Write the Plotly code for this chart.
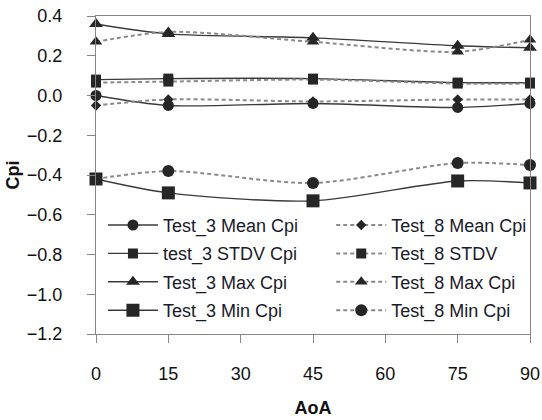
import plotly.graph_objects as go

aoa = [0, 15, 45, 75, 90]

test3_mean = [0.00, -0.05, -0.04, -0.06, -0.04]
test3_stdv = [0.08, 0.085, 0.085, 0.065, 0.065]
test3_max = [0.36, 0.31, 0.29, 0.25, 0.24]
test3_min = [-0.42, -0.49, -0.53, -0.43, -0.44]

test8_mean = [-0.05, -0.02, -0.03, -0.02, -0.02]
test8_stdv = [0.065, 0.07, 0.08, 0.06, 0.06]
test8_max = [0.27, 0.32, 0.27, 0.22, 0.28]
test8_min = [-0.42, -0.38, -0.44, -0.34, -0.35]

FONT = "Liberation Sans, Arial, sans-serif"
SOLID = "#3a3a3a"
DASH = "#8a8a8a"
MK = "#262626"

fig = go.Figure()

dashed = [
    ("Test_8 Mean Cpi", test8_mean, "diamond", 8),
    ("Test_8 STDV", test8_stdv, "square", 10),
    ("Test_8 Max Cpi", test8_max, "triangle-up", 11),
    ("Test_8 Min Cpi", test8_min, "circle", 12),
]
solid = [
    ("Test_3 Mean Cpi", test3_mean, "circle", 11),
    ("test_3 STDV Cpi", test3_stdv, "square", 10),
    ("Test_3 Max Cpi", test3_max, "triangle-up", 12),
    ("Test_3 Min Cpi", test3_min, "square", 13),
]

for i, (name, ys, sym, sz) in enumerate(solid):
    fig.add_trace(go.Scatter(
        x=aoa, y=ys, name=name, mode="lines+markers",
        line=dict(color=SOLID, width=1.4, shape="spline", smoothing=0.8),
        marker=dict(symbol=sym, size=sz, color=MK),
        cliponaxis=False, legend="legend", legendgroup="a%d" % i,
        legendrank=i,
    ))

for i, (name, ys, sym, sz) in enumerate(dashed):
    fig.add_trace(go.Scatter(
        x=aoa, y=ys, name=name, mode="lines+markers",
        line=dict(color=DASH, width=2, dash="4px,3px", shape="spline", smoothing=0.8),
        marker=dict(symbol=sym, size=sz, color=MK),
        cliponaxis=False, legend="legend2", legendgroup="b%d" % i,
        legendrank=i,
    ))

legend_common = dict(
    font=dict(family=FONT, size=18, color="#1a1a2a"),
    bgcolor="rgba(0,0,0,0)", borderwidth=0,
    tracegroupgap=2, itemwidth=50,
    xanchor="left", yanchor="top",
)

fig.update_layout(
    width=542, height=420,
    margin=dict(l=96, r=10, t=16, b=86),
    paper_bgcolor="white", plot_bgcolor="white",
    font=dict(family=FONT, size=18, color="#111111"),
    showlegend=True,
    legend=dict(x=0.016, y=0.40, **legend_common),
    legend2=dict(x=0.542, y=0.40, **legend_common),
    xaxis=dict(
        range=[0, 90], tickmode="array", tickvals=[0, 15, 30, 45, 60, 75, 90],
        showgrid=False, zeroline=False, showline=True, linecolor="#868686",
        linewidth=1.3, mirror=True, ticks="outside", ticklen=8, tickcolor="#868686",
        ticklabelstandoff=15, tickfont=dict(size=18, color="#111111"),
        title=dict(text="<b>AoA</b>", font=dict(size=18), standoff=18),
        automargin=False,
    ),
    yaxis=dict(
        range=[-1.2, 0.4], dtick=0.2, tickformat=".1f",
        showgrid=False, zeroline=False, showline=True, linecolor="#868686",
        linewidth=1.3, mirror=True, ticks="outside", ticklen=8, tickcolor="#868686",
        ticklabelstandoff=21, tickfont=dict(size=18, color="#111111"),
        title=dict(text="<b>Cpi</b>", font=dict(size=18), standoff=2),
        automargin=False,
    ),
)

fig.write_html("out.html", config={"displayModeBar": False},
               post_script="document.body.style.margin='0';")
